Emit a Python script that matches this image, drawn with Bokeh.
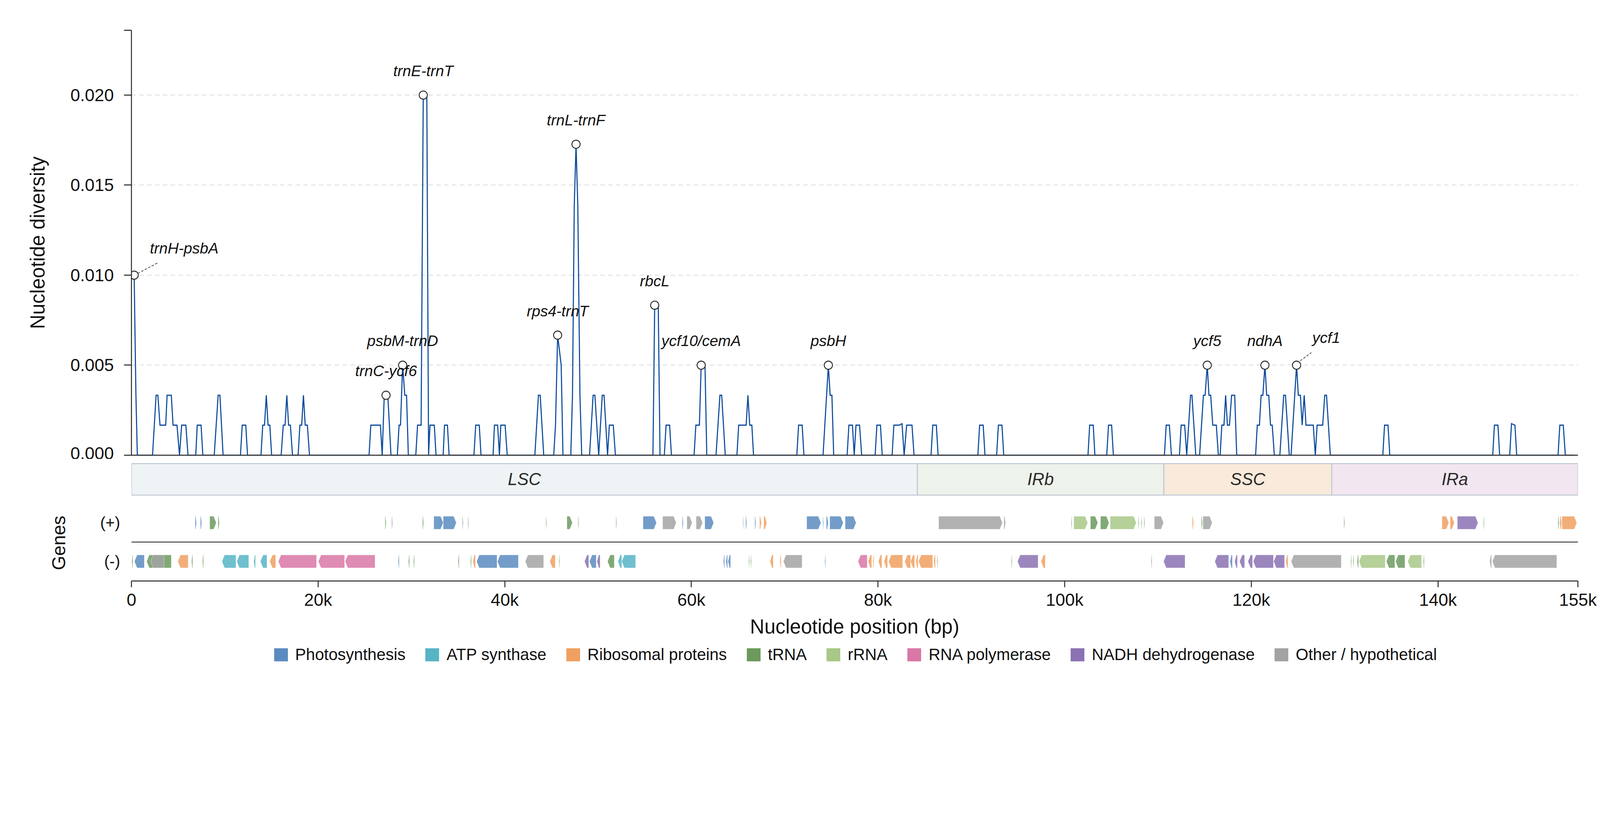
from bokeh.plotting import figure
from bokeh.layouts import column
from bokeh.models import Range1d, FixedTicker, Span, Legend, LegendItem, ColumnDataSource
from bokeh.embed import file_html
from bokeh.resources import INLINE
from bokeh.core.properties import value

# ---------------- data ----------------
# sliding-window nucleotide diversity (vertices of the polyline), position in kb
pos_kb = [0.29, 0.48, 0.63,
          2.26, 2.64, 2.83, 3.06, 3.67, 3.82, 4.27, 4.46, 4.88, 5.15, 5.38, 5.83, 6.06,
          6.89, 7.05, 7.46, 7.65, 8.87, 9.29, 9.48, 9.82, 11.68, 11.87, 12.25, 12.44,
          13.88, 14.07, 14.26, 14.45, 14.64, 14.83, 15.02,
          16.04, 16.27, 16.46, 16.65, 16.84, 17.03, 17.26,
          17.86, 18.05, 18.24, 18.43, 18.62, 18.85, 19.08,
          25.46, 25.65, 26.68, 26.87, 27.09, 27.28, 27.47, 27.81,
          28.49, 28.68, 28.83, 29.06, 29.29, 29.48, 29.67,
          30.47, 30.66, 31.04, 31.27, 31.65, 31.84, 31.99, 32.45, 32.64,
          33.40, 33.55, 33.86, 34.04, 36.70, 36.89, 37.27, 37.46,
          38.75, 38.90, 39.24, 39.43, 39.58, 40.04, 40.27,
          43.23, 43.61, 43.80, 44.18,
          45.25, 45.44, 45.67, 46.05, 46.24,
          47.08, 47.26, 47.45, 47.64, 47.83, 48.06, 48.25,
          49.09, 49.47, 49.66, 50.07, 50.45, 50.64, 51.02, 51.21, 51.63, 51.86,
          55.88, 56.07, 56.45, 56.64, 57.10, 57.29, 57.67, 57.86,
          60.29, 60.48, 60.86, 61.05, 61.46, 61.65,
          62.64, 63.06, 63.25, 63.63,
          64.88, 65.07, 65.87, 66.06, 66.25, 66.48, 66.66,
          71.30, 71.49, 71.87, 72.06,
          74.11, 74.30, 74.68, 74.87, 75.06, 75.25,
          76.69, 76.88, 77.26, 77.45, 77.64, 78.02, 78.25,
          79.69, 79.88, 80.26, 80.45,
          81.51, 81.70, 82.27, 82.57, 82.80, 83.07, 83.64, 83.86,
          85.68, 85.87, 86.25, 86.44, 90.70, 90.89, 91.27, 91.46, 92.71, 92.90, 93.28, 93.47,
          102.50, 102.68, 103.06, 103.24, 104.51, 104.70, 105.03, 105.22,
          110.69, 110.88, 111.22, 111.44,
          112.30, 112.48, 112.86, 113.08, 113.49, 113.64, 114.05,
          114.46, 114.87, 115.05, 115.28, 115.46, 115.65, 115.87, 116.25, 116.47,
          116.66, 116.84, 117.07, 117.25, 117.44, 117.66, 117.89, 118.22, 118.44,
          120.46, 120.64, 120.87, 121.05, 121.24, 121.46, 121.65, 121.87, 122.06, 122.24, 122.47,
          123.06, 123.47, 123.66, 124.07,
          124.26, 124.85, 125.04, 125.26, 125.45, 125.67, 125.86, 126.64, 126.86,
          127.05, 127.65, 127.87, 128.06, 128.47,
          134.09, 134.28, 134.65, 134.84,
          145.87, 146.05, 146.43, 146.61, 147.69, 147.88, 148.25, 148.44,
          152.87, 153.06, 153.43, 153.65, 154.60]
pi = [0.01, 0.00333, 0.0,
      0.0, 0.00333, 0.00333, 0.00167, 0.00167, 0.00333, 0.00333, 0.00167, 0.00167, 0.0, 0.00167, 0.00167, 0.0,
      0.0, 0.00167, 0.00167, 0.0, 0.0, 0.00333, 0.00333, 0.0, 0.0, 0.00167, 0.00167, 0.0,
      0.0, 0.00167, 0.00167, 0.00333, 0.00167, 0.00167, 0.0,
      0.0, 0.00167, 0.00167, 0.00333, 0.00167, 0.00167, 0.0,
      0.0, 0.00167, 0.00167, 0.00333, 0.00167, 0.00167, 0.0,
      0.0, 0.00167, 0.00167, 0.0, 0.00333, 0.00333, 0.00333, 0.0,
      0.0, 0.00167, 0.00167, 0.005, 0.00333, 0.00333, 0.0,
      0.0, 0.00167, 0.00167, 0.02, 0.02, 0.0, 0.00167, 0.00167, 0.0,
      0.0, 0.00167, 0.00167, 0.0, 0.0, 0.00167, 0.00167, 0.0,
      0.0, 0.00167, 0.00167, 0.0, 0.00167, 0.00167, 0.0,
      0.0, 0.00333, 0.00333, 0.0,
      0.0, 0.00167, 0.00667, 0.005, 0.0,
      0.0, 0.00333, 0.01383, 0.01727, 0.01383, 0.00333, 0.0,
      0.0, 0.00333, 0.00333, 0.0, 0.00333, 0.00333, 0.0, 0.00167, 0.00167, 0.0,
      0.0, 0.00833, 0.00833, 0.0, 0.0, 0.00167, 0.00167, 0.0,
      0.0, 0.00167, 0.00167, 0.005, 0.005, 0.0,
      0.0, 0.00333, 0.00333, 0.0,
      0.0, 0.00167, 0.00167, 0.00333, 0.00167, 0.00167, 0.0,
      0.0, 0.00167, 0.00167, 0.0,
      0.0, 0.00167, 0.005, 0.00333, 0.00333, 0.0,
      0.0, 0.00167, 0.00167, 0.0, 0.00167, 0.00167, 0.0,
      0.0, 0.00167, 0.00167, 0.0,
      0.0, 0.00167, 0.00167, 0.00175, 0.0, 0.00167, 0.00167, 0.0,
      0.0, 0.00167, 0.00167, 0.0, 0.0, 0.00167, 0.00167, 0.0, 0.0, 0.00167, 0.00167, 0.0,
      0.0, 0.00167, 0.00167, 0.0, 0.0, 0.00167, 0.00167, 0.0,
      0.0, 0.00167, 0.00167, 0.0,
      0.0, 0.00167, 0.00167, 0.0, 0.00333, 0.00333, 0.0,
      0.0, 0.00333, 0.00333, 0.005, 0.00333, 0.00333, 0.00167, 0.00167, 0.0,
      0.0, 0.00167, 0.00167, 0.00333, 0.00167, 0.00167, 0.00333, 0.00333, 0.0,
      0.0, 0.00167, 0.00167, 0.00333, 0.00333, 0.005, 0.00333, 0.00333, 0.00167, 0.00167, 0.0,
      0.0, 0.00333, 0.00333, 0.0,
      0.0, 0.005, 0.00333, 0.00333, 0.00167, 0.00333, 0.00167, 0.00167, 0.0,
      0.00167, 0.00167, 0.00333, 0.00333, 0.0,
      0.0, 0.00167, 0.00167, 0.0,
      0.0, 0.00167, 0.00167, 0.0, 0.0, 0.00175, 0.00167, 0.0,
      0.0, 0.00167, 0.00167, 0.0, 0.0]

# highlighted hotspots
peak_names = ["trnH-psbA", "trnC-ycf6", "psbM-trnD", "trnE-trnT", "rps4-trnT", "trnL-trnF",
              "rbcL", "ycf10/cemA", "psbH", "ycf5", "ndhA", "ycf1"]
peak_pos = [0.29, 27.28, 29.06, 31.27, 45.67, 47.64, 56.07, 61.05, 74.68, 115.28, 121.46, 124.85]
peak_pi = [0.01, 0.00333, 0.005, 0.02, 0.00667, 0.01727, 0.00833, 0.005, 0.005, 0.005, 0.005, 0.005]

# genome regions (kb)
region_names = ["LSC", "IRb", "SSC", "IRa"]
region_start = [0.0, 84.21, 110.63, 128.62]
region_end = [84.21, 110.63, 128.62, 155.0]

# gene categories
categories = ["Photosynthesis", "ATP synthase", "Ribosomal proteins", "tRNA", "rRNA",
              "RNA polymerase", "NADH dehydrogenase", "Other / hypothetical"]
cat_codes = ["P", "A", "R", "t", "r", "Pol", "N", "O"]

# genes on (+) strand, kb
plus_start = [6.83, 7.39, 8.39, 9.28, 27.18, 27.88, 31.20, 32.40, 33.41, 35.45, 36.06, 44.41,
              46.66, 47.86, 51.92, 54.82, 56.92, 59.02, 59.52, 60.51, 61.44, 65.53, 65.82, 66.80,
              67.31, 67.76, 72.36, 74.09, 74.46, 74.83, 76.48, 86.50, 93.49, 100.71, 100.98,
              102.76, 103.84, 104.88, 107.89, 108.20, 108.50, 109.61, 113.68, 114.65, 114.82,
              129.92, 140.43, 141.31, 142.08, 144.89, 152.87, 153.07, 153.29]
plus_end = [6.97, 7.53, 9.09, 9.42, 27.29, 27.99, 31.31, 33.41, 34.81, 35.56, 36.14, 44.49,
            47.25, 47.94, 52.00, 56.26, 58.38, 59.13, 60.08, 61.20, 62.39, 65.61, 65.93, 66.91,
            67.50, 68.08, 73.88, 74.17, 74.67, 76.27, 77.65, 93.33, 93.67, 100.79, 102.47,
            103.55, 104.75, 107.67, 107.97, 108.28, 108.58, 110.60, 113.82, 114.76, 115.81,
            130.01, 141.17, 141.76, 144.29, 144.97, 152.98, 153.27, 154.88]
plus_cat = ["P", "P", "t", "t", "t", "O", "t", "P", "P", "O", "t", "t",
            "t", "t", "t", "P", "O", "P", "O", "O", "P", "O", "P", "P",
            "R", "R", "P", "P", "P", "P", "P", "O", "O", "t", "r",
            "t", "t", "r", "t", "t", "t", "O", "R", "t", "O",
            "t", "R", "R", "N", "t", "t", "R", "R"]

# genes on (-) strand, kb
minus_start = [0.04, 0.32, 1.63, 2.05, 4.97, 6.44, 7.61, 9.70, 11.29, 13.10, 13.82, 14.82,
               15.74, 20.03, 22.90, 28.58, 29.68, 30.22, 35.00, 36.33, 36.59, 36.99, 39.22,
               42.20, 44.83, 45.81, 48.55, 49.08, 49.88, 51.02, 52.14, 52.54, 63.43, 63.70,
               63.93, 66.14, 66.35, 68.43, 69.49, 69.86, 74.30, 77.86, 78.95, 79.45, 80.04,
               80.65, 81.13, 82.86, 83.49, 84.05, 84.34, 85.96, 86.31, 94.28, 94.95, 97.47,
               109.27, 110.60, 116.09, 117.71, 118.22, 118.74, 119.64, 120.21, 122.40, 123.70,
               124.27, 130.66, 130.89, 131.34, 131.54, 134.47, 135.46, 136.77, 138.44, 145.54,
               145.83]
minus_end = [0.15, 1.38, 4.27, 3.49, 6.08, 6.56, 7.72, 11.20, 12.57, 13.29, 14.52, 15.46,
             19.83, 22.84, 26.10, 28.69, 29.79, 30.32, 35.11, 36.43, 36.86, 39.17, 41.46,
             44.17, 45.41, 45.89, 49.00, 49.80, 50.22, 51.74, 52.54, 54.02, 63.56, 63.88,
             64.20, 66.22, 66.43, 68.77, 69.62, 71.86, 74.38, 78.84, 79.32, 79.56, 80.41,
             81.02, 82.64, 83.49, 83.92, 84.29, 85.86, 86.15, 86.39, 94.36, 97.15, 97.92,
             109.35, 112.90, 117.57, 117.97, 118.51, 119.28, 120.13, 122.37, 123.56, 123.93,
             129.64, 130.74, 130.97, 131.49, 134.35, 135.38, 136.46, 138.24, 138.53, 145.74,
             152.73]
minus_cat = ["t", "P", "t", "O", "R", "t", "t", "A", "A", "A", "A", "R",
             "Pol", "Pol", "Pol", "P", "t", "t", "t", "t", "R", "P", "P",
             "O", "R", "t", "N", "P", "N", "t", "A", "A", "P", "P",
             "P", "t", "t", "R", "R", "O", "P", "Pol", "R", "R", "R",
             "R", "R", "R", "R", "R", "R", "R", "t", "t", "N", "R",
             "t", "N", "N", "P", "N", "N", "N", "N", "N", "R",
             "O", "t", "t", "t", "r", "t", "t", "r", "t", "O",
             "O"]

x_ticks = [0, 20, 40, 60, 80, 100, 120, 140, 155]
x_tick_labels = ["0", "20k", "40k", "60k", "80k", "100k", "120k", "140k", "155k"]
y_ticks = [0.0, 0.005, 0.01, 0.015, 0.02]
y_tick_labels = ["0.000", "0.005", "0.010", "0.015", "0.020"]

# ---------------- style / layout ----------------
FONT = "Liberation Sans"
W = 4096
LEFT, RIGHT = 336, 57
FRAME_W = W - LEFT - RIGHT
X_MAX = 155.0
Y_MAX = 0.0236
A_TOP, A_FRAME_H, A_BOTTOM = 77, 1088, 10
AX_COLOR = "#222222"
AX_W = 2.4
LINE_COLOR = "#0b4a9c"
TICK_FONT = "44.5px"
AXLAB_FONT = "51px"
region_colors = ["#eef3f6", "#edf2ea", "#f9eadb", "#f2e6f0"]
cat_colors = ["#5a8bc0", "#56b4c5", "#f0a060", "#6b9a5d", "#a8c887", "#d977a6", "#8a72b3", "#a3a3a3"]

xr = Range1d(0, X_MAX)

# ---------------- diversity panel ----------------
pA = figure(width=W, height=A_TOP + A_FRAME_H + A_BOTTOM, x_range=xr, y_range=Range1d(0, Y_MAX),
            output_backend="svg", toolbar_location=None, title=None,
            min_border_left=LEFT, min_border_right=RIGHT, min_border_top=A_TOP,
            min_border_bottom=A_BOTTOM)
pA.outline_line_color = None
pA.xgrid.visible = False
pA.ygrid.ticker = FixedTicker(ticks=y_ticks[1:])
pA.ygrid.grid_line_color = "#d8dce1"
pA.ygrid.grid_line_dash = "12 8"
pA.ygrid.grid_line_width = 1.9

pA.xaxis.ticker = FixedTicker(ticks=[])
pA.xaxis.major_tick_out = 0
pA.xaxis.major_tick_in = 0
pA.xaxis.minor_tick_line_color = None
pA.xaxis.major_label_standoff = 0
pA.xaxis.axis_line_color = AX_COLOR
pA.xaxis.axis_line_width = AX_W

pA.yaxis.ticker = FixedTicker(ticks=y_ticks + [Y_MAX])
ov = {t: l for t, l in zip(y_ticks, y_tick_labels)}
ov[Y_MAX] = ""
pA.yaxis.major_label_overrides = ov
pA.yaxis.major_tick_out = 19
pA.yaxis.major_tick_in = 0
pA.yaxis.major_tick_line_width = AX_W
pA.yaxis.major_tick_line_color = AX_COLOR
pA.yaxis.minor_tick_line_color = None
pA.yaxis.axis_line_color = AX_COLOR
pA.yaxis.axis_line_width = AX_W
pA.yaxis.major_label_standoff = 26
pA.yaxis.major_label_text_font = FONT
pA.yaxis.major_label_text_font_size = TICK_FONT
pA.yaxis.major_label_text_color = "#111111"
pA.yaxis.axis_label = "Nucleotide diversity"
pA.yaxis.axis_label_text_font = FONT
pA.yaxis.axis_label_text_font_size = AXLAB_FONT
pA.yaxis.axis_label_text_font_style = "normal"
pA.yaxis.axis_label_text_color = "#111111"
pA.yaxis.axis_label_standoff = 52

pA.line(pos_kb, pi, line_color=LINE_COLOR, line_width=2.8, line_join="miter")

# label offsets (screen px) and dashed leader lines for crowded labels
px_per_kb = FRAME_W / X_MAX
px_per_pi = A_FRAME_H / Y_MAX
special = {"trnH-psbA": (128, -69, (9.5, -4.7), (61.6, -32.2)),
           "ycf1": (76, -70, (9.5, -11.4), (37.9, -32.2))}
xo, yo = [], []
lx0, ly0, lx1, ly1 = [], [], [], []
for n, x, y in zip(peak_names, peak_pos, peak_pi):
    if n in special:
        dx, dy, (s0x, s0y), (s1x, s1y) = special[n]
        xo.append(dx)
        yo.append(dy)
        lx0.append(x + s0x / px_per_kb)
        ly0.append(y - s0y / px_per_pi)
        lx1.append(x + s1x / px_per_kb)
        ly1.append(y - s1y / px_per_pi)
    else:
        xo.append(0)
        yo.append(-62)
pA.segment(x0=lx0, y0=ly0, x1=lx1, y1=ly1, line_color="#444444", line_width=1.9, line_dash="6 4")
pA.scatter(peak_pos, peak_pi, size=21, fill_color="white", line_color="#2b2b2b", line_width=2.3)
lab_src = ColumnDataSource(dict(x=peak_pos, y=peak_pi, name=peak_names, xo=xo, yo=yo))
pA.text(x="x", y="y", text="name", x_offset="xo", y_offset="yo", source=lab_src,
        text_font=value(FONT), text_font_style="italic", text_font_size="39px",
        text_align="center", text_baseline="alphabetic", text_color="#111111")

# ---------------- region bar ----------------
pB = figure(width=W, height=95, x_range=xr, y_range=Range1d(-0.036, 1.1427),
            output_backend="svg", toolbar_location=None, title=None,
            x_axis_location=None, y_axis_location=None,
            min_border_left=LEFT, min_border_right=RIGHT, min_border_top=0, min_border_bottom=0)
pB.outline_line_color = None
pB.grid.visible = False
pB.quad(left=region_start, right=region_end, bottom=0, top=1, fill_color=region_colors,
        line_color="#bcc5cf", line_width=2.4)
pB.text(x=[(s + e) / 2 for s, e in zip(region_start, region_end)], y=[0.5] * len(region_names),
        text=region_names, text_font=value(FONT), text_font_style="italic", text_font_size="43.6px",
        text_align="center", text_baseline="middle", text_color="#2a2a2a")

# ---------------- gene tracks ----------------
C_TOP, C_FRAME_H, C_BOTTOM = 22, 195, 160
pC = figure(width=W, height=C_TOP + C_FRAME_H + C_BOTTOM, x_range=xr, y_range=Range1d(-2.011, 1.927),
            output_backend="svg", toolbar_location=None, title=None,
            min_border_left=LEFT, min_border_right=RIGHT, min_border_top=C_TOP,
            min_border_bottom=C_BOTTOM)
pC.outline_line_color = None
pC.grid.visible = False

HH = 0.335   # half arrow height (data units)
HEAD = 0.28  # arrow head length (kb)
shapes = {c: ([], []) for c in cat_codes}
for starts, ends, cats, strand in ((plus_start, plus_end, plus_cat, 1),
                                   (minus_start, minus_end, minus_cat, -1)):
    yc = float(strand)
    for s, e, c in zip(starts, ends, cats):
        h = min(HEAD, 0.6 * (e - s))
        if strand > 0:
            xs = [s, e - h, e, e - h, s]
        else:
            xs = [e, s + h, s, s + h, e]
        ys = [yc + HH, yc + HH, yc, yc - HH, yc - HH]
        shapes[c][0].append(xs)
        shapes[c][1].append(ys)

for code, col in zip(cat_codes, cat_colors):
    xs, ys = shapes[code]
    if xs:
        pC.patches(xs, ys, fill_color=col, fill_alpha=0.85, line_color="white",
                   line_width=0.8, line_alpha=0.7)

pC.add_layout(Span(location=0, dimension="width", line_color="#333333", line_width=AX_W))

pC.xaxis.ticker = FixedTicker(ticks=x_ticks)
pC.xaxis.major_label_overrides = {t: l for t, l in zip(x_ticks, x_tick_labels)}
pC.xaxis.major_tick_out = 16
pC.xaxis.major_tick_in = 0
pC.xaxis.major_tick_line_width = AX_W
pC.xaxis.major_tick_line_color = AX_COLOR
pC.xaxis.minor_tick_line_color = None
pC.xaxis.axis_line_color = AX_COLOR
pC.xaxis.axis_line_width = AX_W
pC.xaxis.major_label_standoff = 7
pC.xaxis.major_label_text_font = FONT
pC.xaxis.major_label_text_font_size = TICK_FONT
pC.xaxis.major_label_text_color = "#111111"
pC.xaxis.axis_label = "Nucleotide position (bp)"
pC.xaxis.axis_label_text_font = FONT
pC.xaxis.axis_label_text_font_size = AXLAB_FONT
pC.xaxis.axis_label_text_font_style = "normal"
pC.xaxis.axis_label_text_color = "#111111"
pC.xaxis.axis_label_standoff = 13

pC.yaxis.ticker = FixedTicker(ticks=[-1, 1])
pC.yaxis.major_label_overrides = {1: "(+)", -1: "(-)"}
pC.yaxis.major_tick_out = 0
pC.yaxis.major_tick_in = 0
pC.yaxis.major_tick_line_color = None
pC.yaxis.minor_tick_line_color = None
pC.yaxis.axis_line_color = None
pC.yaxis.major_label_standoff = 29
pC.yaxis.major_label_text_font = FONT
pC.yaxis.major_label_text_font_size = "40.8px"
pC.yaxis.major_label_text_color = "#111111"
pC.yaxis.axis_label = "Genes"
pC.yaxis.axis_label_text_font = FONT
pC.yaxis.axis_label_text_font_size = "47.4px"
pC.yaxis.axis_label_text_font_style = "normal"
pC.yaxis.axis_label_text_color = "#111111"
pC.yaxis.axis_label_standoff = 77

# ---------------- legend strip ----------------
D_H = 1992 - (A_TOP + A_FRAME_H + A_BOTTOM) - 95 - (C_TOP + C_FRAME_H + C_BOTTOM)
# the legend swatches reuse the gene shapes, drawn in a y window where they are not visible
pD = figure(width=W, height=D_H, x_range=Range1d(0, X_MAX), y_range=Range1d(10, 11),
            output_backend="svg", toolbar_location=None, title=None,
            x_axis_location=None, y_axis_location=None,
            min_border_left=LEFT, min_border_right=RIGHT, min_border_top=0, min_border_bottom=0)
pD.outline_line_color = None
pD.grid.visible = False
items = []
for cat, code, col in zip(categories, cat_codes, cat_colors):
    xs, ys = shapes[code]
    r = pD.patches(xs, ys, fill_color=col, fill_alpha=1.0, line_color=None)
    items.append(LegendItem(label=cat, renderers=[r]))
legend = Legend(items=items, orientation="horizontal", location="top_center",
                label_text_font=FONT, label_text_font_size="41.7px", label_text_color="#111111",
                glyph_width=44, glyph_height=42, label_standoff=15, spacing=46,
                padding=0, margin=5, border_line_color=None, background_fill_alpha=0)
pD.add_layout(legend)

layout = column(pA, pB, pC, pD, spacing=0)
open("out.html", "w").write(file_html(layout, INLINE))
